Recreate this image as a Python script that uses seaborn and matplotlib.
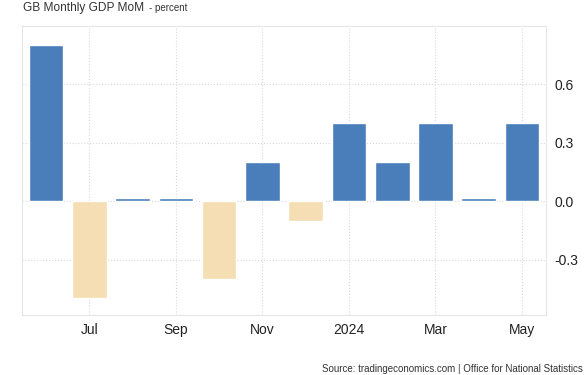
import pandas as pd
import matplotlib
matplotlib.use('Agg')
import matplotlib.pyplot as plt
import seaborn as sns

# Monthly GDP growth, Jun 2023 - May 2024
months = ['Jun', 'Jul', 'Aug', 'Sep', 'Oct', 'Nov', 'Dec', '2024', 'Feb', 'Mar', 'Apr', 'May']
values = [0.8, -0.5, 0.015, 0.015, -0.4, 0.2, -0.1, 0.4, 0.2, 0.4, 0.015, 0.4]
tick_labels = ['Jul', 'Sep', 'Nov', '2024', 'Mar', 'May']
y_ticks = [-0.3, 0.0, 0.3, 0.6]

df = pd.DataFrame({'Month': months, 'Value': values})
df['Sign'] = ['pos' if v >= 0 else 'neg' for v in df['Value']]

sns.set_style('white')
plt.rcParams['font.family'] = ['Liberation Sans', 'DejaVu Sans']

fig = plt.figure(figsize=(5.85, 3.75), dpi=100)
ax = fig.add_axes([0.038, 0.16, 0.895, 0.771])

sns.barplot(data=df, x='Month', y='Value', hue='Sign', order=months,
            palette={'pos': '#4a7ebb', 'neg': '#f5deb3'}, dodge=False,
            width=0.8, legend=False, saturation=1, ax=ax)

ax.set_xlim(-0.55, len(months) - 0.45)
ax.set_ylim(-0.585, 0.9)

label_pos = [months.index(m) for m in tick_labels]
ax.set_xticks(label_pos)
ax.set_xticklabels(tick_labels, fontsize=10, color='#222222')
ax.set_yticks(y_ticks)
ax.set_yticklabels([f'{t:.1f}' for t in y_ticks], fontsize=10, color='#222222')
ax.yaxis.tick_right()
ax.tick_params(axis='both', length=0, pad=6)
ax.set_xlabel('')
ax.set_ylabel('')

ax.grid(True, linestyle=':', color='#d8d8d8', linewidth=0.8)
ax.set_axisbelow(True)
for s in ax.spines.values():
    s.set_color('#e6e6e6')
    s.set_linewidth(0.8)

fig.text(0.04, 0.978, 'GB Monthly GDP MoM', fontsize=8.6, color='#333333', va='center')
fig.text(0.254, 0.978, '- percent', fontsize=7, color='#333333', va='center')
fig.text(0.997, 0.004, 'Source: tradingeconomics.com | Office for National Statistics',
         fontsize=7, color='#333333', ha='right', va='bottom')

fig.savefig('out.png', dpi=100)
